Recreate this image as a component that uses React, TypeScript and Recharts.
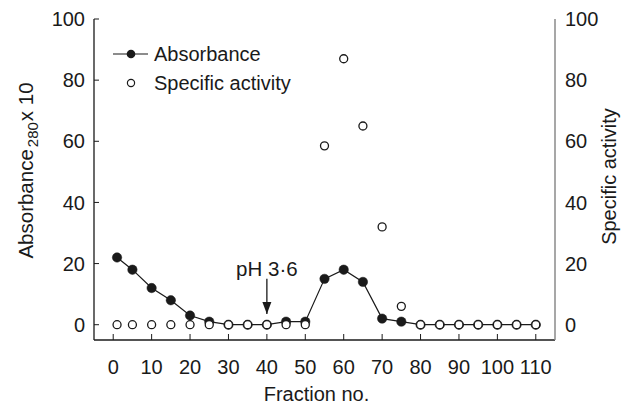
import {
  ComposedChart,
  Line,
  XAxis,
  YAxis,
  Label,
  ReferenceDot,
  ReferenceLine,
} from 'recharts';

const FONT = '"Liberation Sans", Arial, Helvetica, sans-serif';
const INK = '#1a1a1a';

// fraction numbers and the two measured series
const fractions = [1, 5, 10, 15, 20, 25, 30, 35, 40, 45, 50, 55, 60, 65, 70, 75, 80, 85, 90, 95, 100, 105, 110];
const absorbance = [22, 18, 12, 8, 3, 1, 0, 0, 0, 1, 1, 15, 18, 14, 2, 1, 0, 0, 0, 0, 0, 0, 0];
const specificActivity = [0, 0, 0, 0, 0, 0, 0, 0, 0, 0, 0, 58.5, 87, 65, 32, 6, 0, 0, 0, 0, 0, 0, 0];

const xTicks = [0, 10, 20, 30, 40, 50, 60, 70, 80, 90, 100, 110];
const yTicks = [0, 20, 40, 60, 80, 100];

// pH step marker
const phFraction = 40;
const phArrowTop = 15;
const phArrowTip = 3.5;
const phLabel = 'pH 3·6';

const seriesNames = ['Absorbance', 'Specific activity'];

const data = fractions.map((f, i) => ({
  fraction: f,
  absorbance: absorbance[i],
  activity: specificActivity[i],
}));

const X_GAP = 20;
const Y_GAP = 9;
const TICK_FONT = 20;

function XTick(props: any) {
  const { x, y, payload } = props;
  return (
    <g>
      <line x1={x} x2={x} y1={y - X_GAP - 6} y2={y - X_GAP} stroke={INK} strokeWidth={1} />
      <text x={x} y={y} dy="0.71em" textAnchor="middle" fontSize={TICK_FONT} fontFamily={FONT} fill={INK}>
        {payload.value}
      </text>
    </g>
  );
}

function LeftTick(props: any) {
  const { x, y, payload } = props;
  return (
    <g>
      <line x1={x + Y_GAP} x2={x + Y_GAP + 5} y1={y} y2={y} stroke={INK} strokeWidth={1} />
      <text x={x} y={y} dy="0.355em" textAnchor="end" fontSize={TICK_FONT} fontFamily={FONT} fill={INK}>
        {payload.value}
      </text>
    </g>
  );
}

function RightTick(props: any) {
  const { x, y, payload } = props;
  return (
    <text x={x} y={y} dy="0.355em" textAnchor="start" fontSize={TICK_FONT} fontFamily={FONT} fill={INK}>
      {payload.value}
    </text>
  );
}

function LeftLabel(props: any) {
  const { x, y, height } = props.viewBox;
  const cx = x + 33;
  const cy = y + height / 2 - 9;
  return (
    <text
      x={cx}
      y={cy}
      transform={`rotate(-90 ${cx} ${cy})`}
      textAnchor="middle"
      fontSize={20.5}
      fontFamily={FONT}
      fill={INK}
    >
      Absorbance
      <tspan fontSize={15} dx={2} dy={5}>280</tspan>
      <tspan dx={1} dy={-5}>x 10</tspan>
    </text>
  );
}

function RightLabel(props: any) {
  const { x, y, height } = props.viewBox;
  const cx = x + 61;
  const cy = y + height / 2 - 3;
  return (
    <text
      x={cx}
      y={cy}
      transform={`rotate(-90 ${cx} ${cy})`}
      textAnchor="middle"
      fontSize={20}
      fontFamily={FONT}
      fill={INK}
    >
      Specific activity
    </text>
  );
}

function LegendBox() {
  return (
    <svg width={220} height={60} style={{ position: 'absolute', left: 105, top: 38 }}>
      <line x1={8} x2={43} y1={16} y2={16} stroke={INK} strokeWidth={1.2} />
      <circle cx={26} cy={16} r={4.3} fill={INK} />
      <text x={49} y={23} fontSize={20} fontFamily={FONT} fill={INK}>{seriesNames[0]}</text>
      <circle cx={26} cy={45} r={3.6} fill="#fff" stroke={INK} strokeWidth={1.2} />
      <text x={49} y={52} fontSize={20} fontFamily={FONT} fill={INK}>{seriesNames[1]}</text>
    </svg>
  );
}

function ArrowHead(props: any) {
  const { cx, cy } = props;
  return <path d={`M${cx - 4.5},${cy - 12} L${cx + 4.5},${cy - 12} L${cx},${cy} Z`} fill={INK} />;
}

function PhText(props: any) {
  const { cx, cy } = props;
  return (
    <text x={cx} y={cy} textAnchor="middle" fontSize={20.5} fontFamily={FONT} fill={INK}>
      {phLabel}
    </text>
  );
}

export default function App() {
  return (
    <div style={{ position: 'absolute', left: 0, top: 0, width: 627, height: 407, background: '#fff' }}>
      <ComposedChart
        width={627}
        height={407}
        data={data}
        margin={{ top: 19, right: 0, bottom: 0, left: 0 }}
      >
        <XAxis
          dataKey="fraction"
          type="number"
          domain={[-5, 115]}
          ticks={xTicks}
          height={67}
          tickSize={0}
          tickMargin={X_GAP}
          tickLine={false}
          tick={<XTick />}
          axisLine={{ stroke: INK, strokeWidth: 1.3 }}
          interval={0}
        >
          <Label
            value="Fraction no."
            position="insideBottom"
            offset={6}
            style={{ fontSize: 20, fontFamily: FONT, fill: INK }}
            dx={-8}
          />
        </XAxis>
        <YAxis
          yAxisId="left"
          orientation="left"
          type="number"
          domain={[-5, 100]}
          ticks={yTicks}
          width={94}
          tickSize={0}
          tickMargin={Y_GAP}
          tickLine={false}
          tick={<LeftTick />}
          axisLine={{ stroke: INK, strokeWidth: 1.3 }}
          interval={0}
        >
          <Label content={<LeftLabel />} />
        </YAxis>
        <YAxis
          yAxisId="right"
          orientation="right"
          type="number"
          domain={[-5, 100]}
          ticks={yTicks}
          width={72}
          tickSize={0}
          tickMargin={10}
          tickLine={false}
          tick={<RightTick />}
          axisLine={{ stroke: '#8a8a8a', strokeWidth: 1.5 }}
          interval={0}
        >
          <Label content={<RightLabel />} />
        </YAxis>
        <ReferenceLine
          yAxisId="left"
          segment={[
            { x: phFraction, y: phArrowTop },
            { x: phFraction, y: phArrowTip },
          ]}
          stroke={INK}
          strokeWidth={1.3}
        />
        <ReferenceDot yAxisId="left" x={phFraction} y={phArrowTip} shape={<ArrowHead />} />
        <ReferenceDot yAxisId="left" x={phFraction} y={phArrowTop + 1} shape={<PhText />} />
        <Line
          yAxisId="left"
          dataKey="absorbance"
          name={seriesNames[0]}
          type="linear"
          stroke={INK}
          strokeWidth={1.2}
          dot={{ r: 4.7, fill: INK, stroke: INK, strokeWidth: 0.5 }}
          activeDot={false}
          isAnimationActive={false}
        />
        <Line
          yAxisId="right"
          dataKey="activity"
          name={seriesNames[1]}
          type="linear"
          stroke="none"
          dot={{ r: 4, fill: '#fff', stroke: INK, strokeWidth: 1.3 }}
          activeDot={false}
          isAnimationActive={false}
        />
      </ComposedChart>
      <LegendBox />
    </div>
  );
}
